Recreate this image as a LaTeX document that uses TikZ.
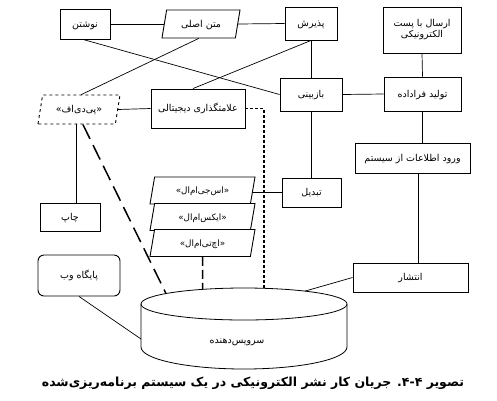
\documentclass[tikz,border=0pt]{standalone}
\usepackage{fontspec}
\usetikzlibrary{shapes.geometric,calc}
\newfontfamily\arabicfont[Script=Arabic]{DejaVu Sans}
\TeXXeTstate=1
\newcommand{\fa}[1]{{\arabicfont\beginR #1\endR}}
\begin{document}
\begin{tikzpicture}[x=1pt,y=-1pt,
  lbl/.style={font=\fontsize{9.5}{11}\selectfont, text height=6pt, text depth=0pt},
  box/.style={lbl, draw, line width=0.9pt, inner sep=1pt},
  rbox/.style={box, rounded corners=6pt},
  para/.style={lbl, draw, line width=0.9pt, trapezium, trapezium left angle=60,
     trapezium right angle=120, trapezium stretches body, inner sep=1pt},
  fmt/.style={para, fill=white, font=\fontsize{8.8}{11}\selectfont, minimum width=105pt, minimum height=27pt},
  conn/.style={line width=0.7pt},
  longdash/.style={line width=1.5pt, dash pattern=on 16pt off 7pt},
  middash/.style={line width=1.5pt, dash pattern=on 9pt off 4pt},
  shortdash/.style={line width=1.1pt, dash pattern=on 3pt off 2pt}]
\useasboundingbox (0,0) rectangle (497,400);
% boxes
\node[box, minimum width=50pt, minimum height=30pt] (write) at (85,24) {\fa{نوشتن}};
\node[box, minimum width=52pt, minimum height=33pt] (accept) at (311,23.5) {\fa{پذیرش}};
\node[draw, line width=0.9pt, inner sep=1pt, font=\fontsize{9.5}{11}\selectfont, minimum width=78pt, minimum height=46pt, align=center] (email) at (422,30) {\fa{ارسال با پست}\\\fa{الکترونیکی}};
\node[box, minimum width=62pt, minimum height=33pt] (review) at (311,94.5) {\fa{بازبینی}};
\node[box, minimum width=77pt, minimum height=34pt] (meta) at (422.5,94) {\fa{تولید فراداده}};
\node[box, minimum width=94pt, minimum height=39pt] (sign) at (198,108.5) {\fa{علامتگذاری دیجیتالی}};
\node[box, minimum width=60pt, minimum height=28pt] (print) at (70,217) {\fa{چاپ}};
\node[box, minimum width=115pt, minimum height=30pt] (entry) at (412.5,158) {\fa{ورود اطلاعات از سیستم}};
\node[box, minimum width=59pt, minimum height=29pt] (convert) at (311.5,192.5) {\fa{تبدیل}};
\node[box, minimum width=115pt, minimum height=29pt] (publish) at (410.5,277.5) {\fa{انتشار}};
\node[rbox, minimum width=82pt, minimum height=41pt] (web) at (79,275.5) {\fa{پایگاه وب}};
% parallelograms
\node[para, minimum width=78pt, minimum height=28pt] (main) at (201,24) {\fa{متن اصلی}};
\node[para, dashed, minimum width=82pt, minimum height=29pt] (pdf) at (79,109.5) {\fa{«پی^^^^200cدی^^^^200cاف»}};
\node[fmt] (sgml) at (202.5,190.5) {\fa{«اس^^^^200cجی^^^^200cام^^^^200cال»}};
\node[fmt] (xml) at (202.5,217) {\fa{«ایکس^^^^200cام^^^^200cال»}};
\node[fmt] (html) at (202.5,243) {\fa{«اچ^^^^200cتی^^^^200cام^^^^200cال»}};
% server cylinder
\draw[line width=0.8pt] (244,304) ellipse [x radius=103pt, y radius=16pt];
\draw[line width=0.8pt] (141,304) -- (141,347) arc[start angle=180, end angle=360, x radius=103pt, y radius=22pt] -- (347,304);
\node[lbl] (srv) at (237,340) {\fa{سرویس^^^^200cدهنده}};
\coordinate (cA) at (166,293.5);
\coordinate (cB) at (202.5,289.4);
\coordinate (cC) at (264,288.3);
\coordinate (cD) at (305,291.1);
\coordinate (cE) at (141,339);
\coordinate (xA) at (418,0);
\coordinate (xB) at (264,0);
% connectors
\draw[conn] (write.east) -- (main.west);
\draw[conn] (main.east) -- (accept.west);
\draw[conn] (main.bottom side) -- (pdf.top side);
\draw[conn] ($(write.south)+(-2,0)$) -- (review.west);
\draw[conn] (accept.south) -- ($(sign.north)+(-5,0)$);
\draw[conn] (accept.south) -- (review.north);
\draw[conn] (email.south) -- (meta.north);
\draw[conn] (review.east) -- (meta.west);
\draw[conn] (meta.south) -- (meta.south |- entry.north);
\draw[conn] (review.south) -- (review.south |- convert.north);
\draw[conn] (entry.south -| xA) -- (publish.north -| xA);
\draw[conn] (publish.west) -- (cD);
\draw[conn] (web.south) -- (cE);
\draw[conn] (pdf.east) -- (sign.west);
\draw[conn] ($(sign.south)+(3,0)$) -- ($(sign.south)+(3,0)$ |- sgml.north);
\draw[conn] (convert.west) -- (convert.west -| sgml.east);
\draw[conn] (pdf.bottom side) -- (pdf.bottom side |- print.north);
\draw[longdash] ($(pdf.bottom left corner)!0.58!(pdf.bottom right corner)$) -- (cA);
\draw[middash] (html.south) -- (cB);
\draw[shortdash] (sign.east) -- (sign.east -| xB) -- (cC);
% caption
\node[font=\fontsize{12.5}{15}\selectfont\bfseries] (cap) at (253,383) {\fa{تصویر ۴-۴. جریان کار نشر الکترونیکی در یک سیستم برنامه^^^^200cریزی^^^^200cشده}};
\end{tikzpicture}
\end{document}
